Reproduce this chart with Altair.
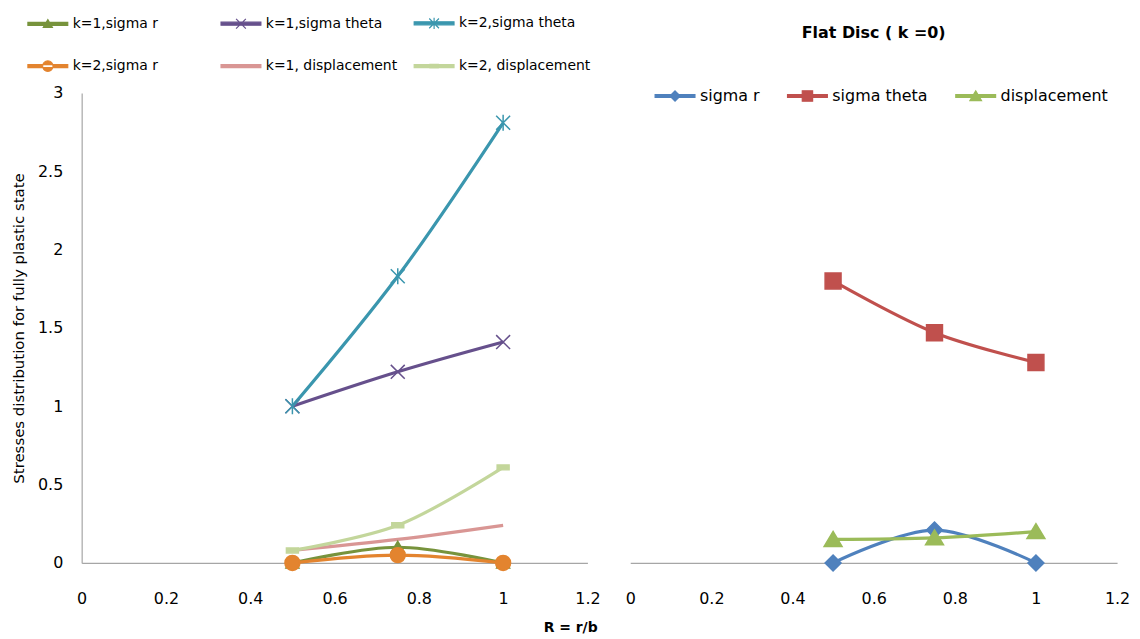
import altair as alt
import pandas as pd

# ---------------- data ----------------
R = [0.5, 0.75, 1.0]

left_series = ["k=1,sigma r", "k=1,sigma theta", "k=2,sigma theta",
               "k=2,sigma r", "k=1, displacement", "k=2, displacement"]
k1_sigma_r = [0.0, 0.10, 0.0]
k1_sigma_theta = [1.0, 1.22, 1.41]
k2_sigma_theta = [1.0, 1.83, 2.81]
k2_sigma_r = [0.0, 0.05, 0.0]
k1_disp = [0.08, 0.15, 0.24]
k2_disp = [0.08, 0.24, 0.61]

right_series = ["sigma r", "sigma theta", "displacement"]
k0_sigma_r = [0.0, 0.21, 0.0]
k0_sigma_theta = [1.80, 1.47, 1.28]
k0_disp = [0.15, 0.16, 0.20]

x_ticks = [0, 0.2, 0.4, 0.6, 0.8, 1.0, 1.2]
y_ticks = [0, 0.5, 1, 1.5, 2, 2.5, 3]

left_colors = ["#77933C", "#66508C", "#3A96AE", "#E3842F", "#D99694", "#C3D69B"]
right_colors = ["#4F81BD", "#C0504D", "#9BBB59"]

FONT = "DejaVu Sans"


# ---------------- marker path helpers (pixel geometry -> unit path) ----------------
def fmt(v):
    return f"{v:.3f}"


def poly(pts, k):
    return "M" + "L".join(f"{fmt(x / k)},{fmt(y / k)}" for x, y in pts) + "Z"


def circle(r, k):
    r = r / k
    return (f"M{fmt(-r)},0A{fmt(r)},{fmt(r)} 0 1,0 {fmt(r)},0"
            f"A{fmt(r)},{fmt(r)} 0 1,0 {fmt(-r)},0Z")


def xcross(h, k):
    h = h / k
    return f"M{fmt(-h)},{fmt(-h)}L{fmt(h)},{fmt(h)}M{fmt(-h)},{fmt(h)}L{fmt(h)},{fmt(-h)}"


def star(h, v, k):
    return xcross(h, k) + f"M0,{fmt(-v / k)}L0,{fmt(v / k)}"


def marker(kind, k, s=1.0):
    if kind == "tri":
        return poly([(0, -6 * s), (6.5 * s, 5 * s), (-6.5 * s, 5 * s)], k)
    if kind == "x":
        return xcross(7 * s, k)
    if kind == "star":
        return star(7 * s, 8 * s, k)
    if kind == "circle":
        return circle(7.5 * s, k)
    if kind == "dash":
        return poly([(-6 * s, -2.5 * s), (6 * s, -2.5 * s), (6 * s, 2.5 * s), (-6 * s, 2.5 * s)], k)
    if kind == "diamond":
        return poly([(0, -8 * s), (8 * s, 0), (0, 8 * s), (-8 * s, 0)], k)
    if kind == "square":
        return poly([(-8 * s, -8 * s), (8 * s, -8 * s), (8 * s, 8 * s), (-8 * s, 8 * s)], k)
    if kind == "tri2":
        return poly([(0, -8 * s), (9 * s, 7 * s), (-9 * s, 7 * s)], k)
    return "M0,0"


def legend_symbol(kind, k, half_len, s):
    line = poly([(-half_len, -1.5), (half_len, -1.5), (half_len, 1.5), (-half_len, 1.5)], k)
    if kind == "none":
        return line
    return line + marker(kind, k, s)


left_kinds = ["tri", "x", "star", "circle", "none", "dash"]
right_kinds = ["diamond", "square", "tri2"]

POINT_SIZE = 400          # 20 px box -> 10 px per unit
PK = 10.0
LEG_SIZE = 400            # 20 px box -> 10 px per unit (line overflows the box)
LK = 10.0


def long_df(names, values):
    rows = []
    for name, vals in zip(names, values):
        for r, v in zip(R, vals):
            rows.append({"R": r, "value": v, "series": name})
    return pd.DataFrame(rows)


left_df = long_df(left_series, [k1_sigma_r, k1_sigma_theta, k2_sigma_theta,
                                 k2_sigma_r, k1_disp, k2_disp])
right_df = long_df(right_series, [k0_sigma_r, k0_sigma_theta, k0_disp])


def legend_df(names):
    return pd.DataFrame({"lg": names, "R": [None] * len(names), "value": [None] * len(names)})


def x_enc():
    return alt.X("R:Q", scale=alt.Scale(domain=[0, 1.2], nice=False, zero=False),
                 axis=alt.Axis(values=x_ticks, format="~g", title=None, grid=False,
                               ticks=False, labelPadding=28, domainColor="#A6A6A6",
                               domainWidth=1.2, labelFontSize=16, labelColor="#000000",
                               labelFont=FONT, labelFlush=False, labelOverlap=False))


def y_enc(show):
    if show:
        ax = alt.Axis(values=y_ticks, format="~g", grid=False, ticks=False,
                      domainColor="#A6A6A6", domainWidth=1.2,
                      title="Stresses distribution for fully plastic state",
                      titleFontSize=15, titleFontWeight="normal", titleFont=FONT,
                      titleColor="#000000", titlePadding=11,
                      labelPadding=19, labelFontSize=16, labelColor="#000000", labelFont=FONT,
                      labelFlush=False, labelOverlap=False)
    else:
        ax = alt.Axis(labels=False, domain=False, ticks=False, grid=False, title=None)
    return alt.Y("value:Q", scale=alt.Scale(domain=[0, 3], nice=False, zero=True), axis=ax)


def panel(df, names, colors, kinds, lp, width, title=None):
    cscale = alt.Scale(domain=names, range=colors)
    lines = alt.Chart(df).mark_line(interpolate="catmull-rom", strokeWidth=3.2).encode(
        x=x_enc(), y=y_enc(lp["show_y"]),
        color=alt.Color("series:N", scale=cscale, legend=None),
    )
    pts = alt.Chart(df).mark_point(filled=True, opacity=1, size=POINT_SIZE,
                                   strokeWidth=1.5).encode(
        x=x_enc(), y=y_enc(lp["show_y"]),
        fill=alt.Fill("series:N", scale=cscale, legend=None),
        stroke=alt.Stroke("series:N", scale=cscale, legend=None),
        shape=alt.Shape("series:N", scale=alt.Scale(domain=names,
                                                    range=[marker(k, PK) for k in kinds]),
                        legend=None),
    )
    lscale = alt.Scale(domain=names, range=colors)
    leg = alt.Legend(title=None, orient="none", legendX=lp["x"],
                     legendY=lp["y"], columns=lp["columns"],
                     direction="horizontal", gridAlign=lp["align"],
                     columnPadding=lp["colpad"], rowPadding=lp["rowpad"],
                     symbolSize=LEG_SIZE, symbolStrokeWidth=1.2, symbolOpacity=1,
                     symbolOffset=10,
                     labelFontSize=lp["fs"], labelFont=FONT, labelColor="#000000",
                     labelOffset=lp["laboff"], labelLimit=300)
    legend_layer = alt.Chart(legend_df(names)).mark_point(
        filled=True, opacity=1, size=POINT_SIZE, strokeWidth=1.2).encode(
        x=x_enc(), y=y_enc(lp["show_y"]),
        fill=alt.Fill("lg:N", scale=lscale, legend=leg),
        stroke=alt.Stroke("lg:N", scale=lscale, legend=leg),
        shape=alt.Shape("lg:N", scale=alt.Scale(
            domain=names, range=[legend_symbol(k, LK, 20, lp["ms"]) for k in kinds]),
            legend=leg),
    )
    props = dict(width=width, height=472,
                 view=alt.ViewBackground(stroke="transparent", strokeWidth=0))
    if title is not None:
        props["title"] = title
    return alt.layer(lines, pts, legend_layer).resolve_scale(
        fill="independent", stroke="independent", shape="independent"
    ).properties(**props)


left = panel(left_df, left_series, left_colors, left_kinds,
             dict(show_y=True, x=-55, y=-81, columns=3, align="all",
                  colpad=14, rowpad=24, fs=14, laboff=14, ms=0.7), 508)

right_title = alt.TitleParams("Flat Disc ( k =0)", anchor="middle", fontSize=16,
                              fontWeight="bold", font=FONT, color="#000000", offset=44)
right = panel(right_df, right_series, right_colors, right_kinds,
              dict(show_y=False, x=24, y=-8, columns=3, align="each",
                   colpad=25, rowpad=0, fs=16, laboff=14, ms=0.65), 489, title=right_title)

chart = alt.hconcat(left, right, spacing=24).resolve_scale(
    color="independent", fill="independent", stroke="independent", shape="independent"
).properties(
    title=alt.TitleParams("R = r/b", orient="bottom", anchor="middle", fontSize=14,
                          fontWeight="bold", font=FONT, color="#000000", offset=14),
    padding={"left": 3, "top": 3, "right": 2, "bottom": 2},
).configure_view(strokeWidth=0, stroke="transparent").configure(background="white")

chart.save("out.html", embed_options={"renderer": "svg", "actions": False})
